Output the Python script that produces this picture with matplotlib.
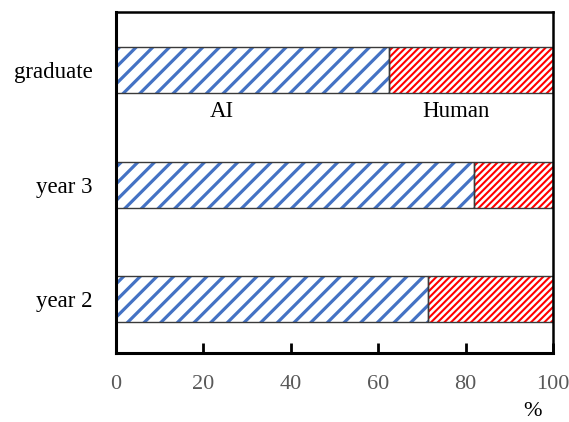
import matplotlib
matplotlib.use("Agg")
import matplotlib.pyplot as plt
import numpy as np

categories = ["year 2", "year 3", "graduate"]
ai_share = [71.5, 82.0, 62.5]
human_share = [28.5, 18.0, 37.5]
xticks = [0, 20, 40, 60, 80, 100]

plt.rcParams["font.family"] = ["Liberation Serif", "DejaVu Serif"]

fig = plt.figure(figsize=(5.69, 4.22), dpi=100)
ax = fig.add_axes([0.2039, 0.1635, 0.768, 0.808])

y = np.arange(len(categories))
h = 0.4

with plt.rc_context({"hatch.linewidth": 2.3}):
    ax.barh(y, ai_share, height=h, color="white", edgecolor="#4472c4",
            hatch="//", linewidth=0)
with plt.rc_context({"hatch.linewidth": 1.5}):
    ax.barh(y, human_share, left=ai_share, height=h, color="white",
            edgecolor="#ff0000", hatch="/////", linewidth=0)
# outlines
ax.barh(y, ai_share, height=h, fill=False, edgecolor="#3a3a3a", linewidth=1)
ax.barh(y, human_share, left=ai_share, height=h, fill=False,
        edgecolor="#3a3a3a", linewidth=1)

ax.set_xlim(0, 100)
ax.set_ylim(-0.47, 2.507)
ax.set_xticks(xticks)
ax.set_xticklabels([str(t) for t in xticks])
ax.set_yticks(y)
ax.set_yticklabels(categories)

ax.tick_params(axis="x", direction="in", length=7, width=2, pad=16,
               labelsize=16, labelcolor="#595959")
ax.tick_params(axis="y", length=0, pad=17, labelsize=16.5)

for side in ["left", "bottom"]:
    ax.spines[side].set_linewidth(2.2)
for side in ["top", "right"]:
    ax.spines[side].set_linewidth(1.8)

ax.text(24.3, 1.64, "AI", ha="center", va="center", fontsize=16.5)
ax.text(77.8, 1.64, "Human", ha="center", va="center", fontsize=16.5)
ax.text(95.2, -0.172, "%", transform=ax.get_xaxis_transform(),
        ha="center", va="center", fontsize=16)

fig.savefig("out.png", dpi=100)
